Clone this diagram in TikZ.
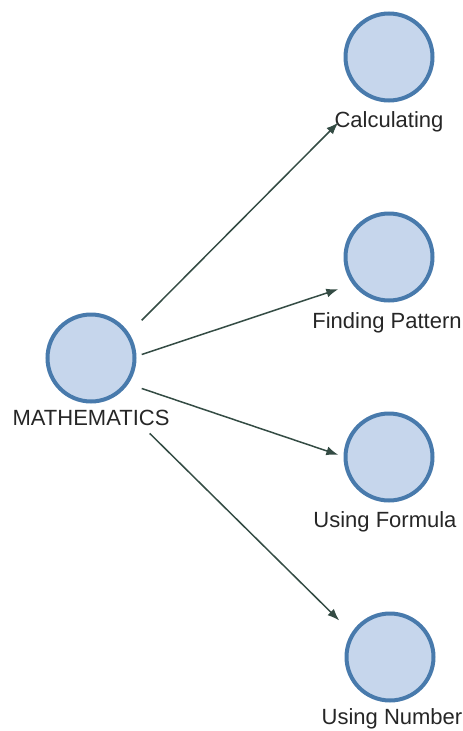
\documentclass[tikz,border=0pt]{standalone}
\usepackage{fontspec}
\setmainfont{Liberation Sans}
\usetikzlibrary{arrows.meta, positioning, fit}
\definecolor{conceptfill}{RGB}{198, 214, 236}
\definecolor{conceptline}{RGB}{72, 122, 172}
\definecolor{linkline}{RGB}{52, 76, 68}

\begin{document}
\begin{tikzpicture}[
        x=1pt, y=-1pt,
        concept/.style={circle, draw=conceptline, fill=conceptfill,
                        line width=4pt, minimum size=87pt, inner sep=0pt},
        tag/.style={anchor=base, inner sep=0pt, text=black!85, text depth=5pt,
                    font=\fontsize{22}{26}\selectfont},
        hub/.style={inner xsep=5pt, inner ysep=3pt},
        arrow/.style={-{Latex[length=12pt, width=9pt]}, line width=1.5pt, draw=linkline},
    ]
        \useasboundingbox (0,0) rectangle (463,731);

        \node[concept] (mathC) at (91,358) {};
        \node[tag] (mathL) at (91,425) {MATHEMATICS};

        \node[concept] (calcC) at (389,57) {};
        \node[tag] (calcL) at (389,127) {Calculating};
        \node[concept] (pattC) at (389,257) {};
        \node[tag] (pattL) at (387,328) {Finding Pattern};
        \node[concept] (formC) at (389,457) {};
        \node[tag] (formL) at (385,527) {Using Formula};
        \node[concept] (numbC) at (390,657) {};
        \node[tag] (numbL) at (392,724) {Using Number};

        % link boxes: circle plus its label
        \node[hub, fit=(mathC)(mathC.west |- mathL.south)] (math) {};
        \node[hub, fit=(calcC)(calcC.west |- calcL.south)] (calc) {};
        \node[hub, fit=(pattC)(pattC.west |- pattL.south)] (patt) {};
        \node[hub, fit=(formC)(formC.west |- formL.south)] (form) {};
        \node[hub, fit=(numbC)(numbC.west |- numbL.south)] (numb) {};

        \draw[arrow] (math) -- (calc);
        \draw[arrow] (math) -- (patt);
        \draw[arrow] (math) -- (form);
        \draw[arrow] ([xshift=8pt]math.south east) -- (numb);
    \end{tikzpicture}
\end{document}
